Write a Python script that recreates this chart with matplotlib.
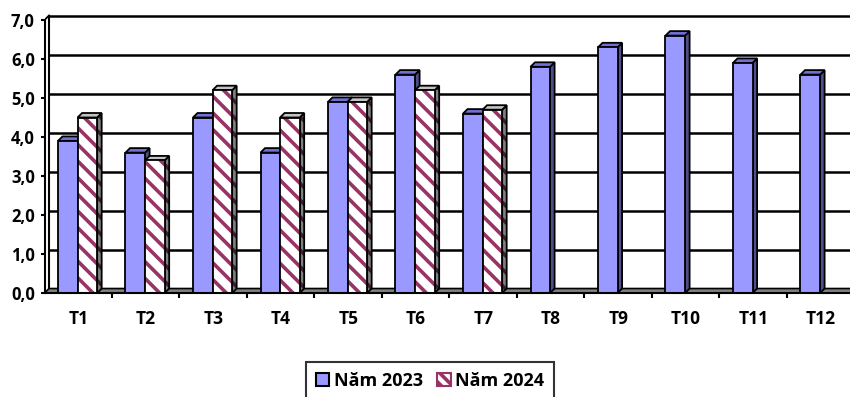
import matplotlib
matplotlib.use('Agg')
import matplotlib.pyplot as plt
from matplotlib.patches import Patch, Polygon
from matplotlib.ticker import FuncFormatter

# Monthly values, 2023 full year and 2024 up to July
months = ['T1', 'T2', 'T3', 'T4', 'T5', 'T6', 'T7', 'T8', 'T9', 'T10', 'T11', 'T12']
values_2023 = [3.9, 3.6, 4.5, 3.6, 4.9, 5.6, 4.6, 5.8, 6.3, 6.6, 5.9, 5.6]
values_2024 = [4.5, 3.4, 5.2, 4.5, 4.9, 5.2, 4.7]
series_names = ['Năm 2023', 'Năm 2024']

plt.rcParams['font.family'] = ['Open Sans', 'DejaVu Sans']
plt.rcParams['font.weight'] = 'bold'
plt.rcParams['hatch.linewidth'] = 2.6

blue = '#9999FF'
blue_side = '#4F4F8A'
blue_top = '#7070D6'
wine = '#993366'

# fake 3D depth (data units)
dx, dy = 0.067, 0.115
bar_w = 0.29

fig = plt.figure(figsize=(8.5, 3.97), dpi=100)
ax = fig.add_axes([44.5 / 850, 104 / 397, 810 / 850, 282.75 / 397])
ax.set_xlim(-0.5, 11.5)
ax.set_ylim(0, 7.25)


def add_poly(pts, face, z, hatch=None, hatch_color=None):
    if hatch:
        ax.add_patch(Polygon(pts, closed=True, facecolor=face, edgecolor=hatch_color,
                             hatch=hatch, lw=0, zorder=z))
        face = 'none'
    ax.add_patch(Polygon(pts, closed=True, facecolor=face, edgecolor='black',
                         lw=1.3, joinstyle='miter', zorder=z + 0.01))


def draw_bar(rect, z, side, top, hatch=None, hatch_color=None):
    x0, w, h = rect.get_x(), rect.get_width(), rect.get_height()
    add_poly([(x0 + w, 0), (x0 + w + dx, dy), (x0 + w + dx, h + dy), (x0 + w, h)],
             side, z, hatch, hatch_color)
    add_poly([(x0, h), (x0 + w, h), (x0 + w + dx, h + dy), (x0 + dx, h + dy)], top, z)
    rect.set_zorder(z + 0.02)


# back wall gridlines and left wall
for v in range(8):
    ax.plot([-0.5 + dx, 11.5 + dx], [v + dy, v + dy], color='black', lw=1.8, zorder=0.5)
ax.plot([-0.5 + dx, -0.5 + dx], [dy, 7 + dy], color='black', lw=1.5, zorder=0.5)
ax.plot([-0.5, -0.5 + dx], [7, 7 + dy], color='black', lw=1.3, zorder=0.5)

# floor
ax.add_patch(Polygon([(-0.5, 0), (11.5, 0), (11.5 + dx, dy), (-0.5 + dx, dy)],
                     closed=True, facecolor='#808080', edgecolor='black', lw=1.2, zorder=1))

x = list(range(len(months)))
bars_2023 = ax.bar([i - 0.30 for i in x], values_2023, width=bar_w, align='edge',
                   color=blue, edgecolor='black', lw=1.3)
x24 = [i - 0.01 for i in range(len(values_2024))]
bars_2024 = ax.bar(x24, values_2024, width=bar_w, align='edge',
                   color='white', edgecolor=wine, hatch='\\\\', lw=0)
outline_2024 = ax.bar(x24, values_2024, width=bar_w, align='edge',
                      color='none', edgecolor='black', lw=1.3)

z = 2
for i, r in enumerate(bars_2023):
    draw_bar(r, z, blue_side, blue_top)
    z += 1
    if i < len(values_2024):
        draw_bar(bars_2024[i], z, '#808080', '#C4C4C4', '\\\\', '#3A2030')
        outline_2024[i].set_zorder(z + 0.03)
        z += 1

# axes
for s in ['top', 'right']:
    ax.spines[s].set_visible(False)
ax.spines['left'].set_bounds(0, 7)
ax.spines['left'].set_linewidth(1.5)
ax.spines['bottom'].set_linewidth(1.5)
ax.spines['left'].set_zorder(50)
ax.spines['bottom'].set_zorder(50)

ax.set_yticks(range(8))
ax.yaxis.set_major_formatter(FuncFormatter(lambda v, p: f'{v:.1f}'.replace('.', ',')))
ax.tick_params(axis='y', direction='out', length=3, width=1.5, pad=4, labelsize=12)

ax.set_xticks([i + 0.5 for i in range(11)])
ax.set_xticklabels([])
ax.set_xticks(x, minor=True)
ax.set_xticklabels(months, minor=True)
ax.tick_params(axis='x', which='major', direction='out', length=3.5, width=1.5)
ax.tick_params(axis='x', which='minor', length=0, pad=12, labelsize=12.5)

handles = [Patch(facecolor=blue, edgecolor='black', lw=1.5),
           Patch(facecolor='white', edgecolor=wine, hatch='\\\\\\', lw=1.5)]
leg = fig.legend(handles, series_names, loc='upper center', bbox_to_anchor=(0.506, 0.088),
                 ncol=2, fontsize=13, frameon=True, fancybox=False, borderpad=0.55,
                 handlelength=0.75, handleheight=0.75, handletextpad=0.25, columnspacing=0.8,
                 borderaxespad=0)
leg.get_frame().set_edgecolor('black')
leg.get_frame().set_linewidth(1.5)

fig.savefig('out.png', dpi=100)
